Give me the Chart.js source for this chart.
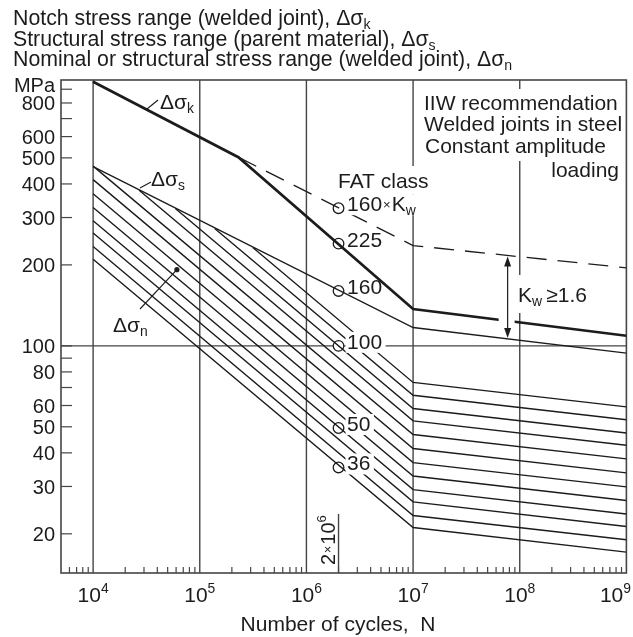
<!DOCTYPE html>
<html>
<head>
<meta charset="utf-8">
<script src="https://cdn.jsdelivr.net/npm/chart.js@4.4.0/dist/chart.umd.min.js"></script>
<style>
  html, body { margin: 0; padding: 0; background: #fff; }
  #chart { display: block; }
</style>
</head>
<body>
<canvas id="chart" width="633" height="637"></canvas>
<script>
// axis ranges (cycles / MPa)
const xMin = 5000, xMax = 1e9;
const yMin = 14.3, yMax = 974;

const cycleDecades = [1e4, 1e5, 1e6, 1e7, 1e8, 1e9];
const decadeExp = ['4', '5', '6', '7', '8', '9'];
const stressTicks = [20, 30, 40, 50, 60, 70, 80, 90, 100, 200, 300, 400, 500, 600, 700, 800, 900];
const stressLabels = [20, 30, 40, 50, 60, 80, 100, 200, 300, 400, 500, 600, 800];

// notch stress range Δσk
const notchN = [1e4, 2.3e5, 1e7, 1e9];
const notchS = [960, 503, 137, 109];

// 160 x Kw (dashed)
const kwN = [2.3e5, 1e7, 1e9];
const kwS = [503, 236, 195];

// structural stress range Δσs (parent material)
const structN = [1e4, 1e7, 1e9];
const structS = [464, 117, 94];

// nominal stress range Δσn, one line per FAT class
const fatClass  = [36, 40, 45, 50, 56, 63, 71, 80, 90, 100, 112, 125];
const fatStartN = [1e4, 1e4, 1e4, 1e4, 1e4, 1e4, 1e4, 1e4, 2.7e4, 5.9e4, 1.38e5, 3.14e5];
const fatStartS = [210, 234, 263, 292, 327, 368, 415, 466, 379, 324, 273, 232];
const fatKneeS  = [21.1, 23.4, 26.3, 29.2, 32.8, 36.8, 41.5, 46.8, 52.6, 58.5, 65.5, 73.1];
const fatEndS   = [17.1, 19.0, 21.3, 23.7, 26.6, 29.9, 33.7, 38.0, 42.7, 47.4, 53.1, 59.3];
const kneeN = 1e7, endN = 1e9;

// FAT markers at 2x10^6
const markN = 2e6;
const markS = [325, 240, 160, 100, 49.5, 35.3];
const markText = [[['160'], ['×', 'small'], ['K'], ['w', 'sub']], [['225']], [['160']], [['100']], [['50']], [['36']]];
const markBox = [true, false, false, true, true, true];

// Kw arrow
const arrowN = 7.7e7;
const arrowS = [107, 215];
const arrowGapS = 124;

// Δσn pointer dot
const dotN = 6.1e4, dotS = 192;

const FONT = '"Liberation Sans", Arial, Helvetica, sans-serif';
const INK = '#1c1c1c';
const GRID = '#454545';

function pts(ns, ss) {
    return ns.map((n, i) => ({ x: n, y: ss[i] }));
}

function partFont(size, kind) {
    const s = (kind === 'sub' || kind === 'sup') ? size * 0.66 : (kind === 'small' ? size * 0.62 : size);
    return s.toFixed(1) + 'px ' + FONT;
}

function richWidth(ctx, parts, size) {
    let w = 0;
    parts.forEach(p => {
        ctx.font = partFont(size, p[1]);
        w += ctx.measureText(p[0]).width + (p[1] === 'small' ? 2 : 0);
    });
    return w;
}

function drawRich(ctx, parts, x, y, size, align) {
    const w = richWidth(ctx, parts, size);
    let cx = align === 'center' ? x - w / 2 : (align === 'right' ? x - w : x);
    ctx.textAlign = 'left';
    ctx.textBaseline = 'alphabetic';
    parts.forEach(p => {
        const kind = p[1];
        ctx.font = partFont(size, kind);
        let dy = 0;
        if (kind === 'sub') dy = size * 0.2;
        if (kind === 'sup') dy = -size * 0.42;
        if (kind === 'small') dy = -size * 0.12;
        const pad = kind === 'small' ? 1 : 0;
        ctx.fillText(p[0], cx + pad, y + dy);
        cx += ctx.measureText(p[0]).width + pad * 2;
    });
    return w;
}

function whiteBox(ctx, x, y, w, h) {
    ctx.fillStyle = '#fff';
    ctx.fillRect(x, y, w, h);
    ctx.fillStyle = INK;
}

function seg(ctx, x1, y1, x2, y2) {
    ctx.beginPath();
    ctx.moveTo(x1, y1);
    ctx.lineTo(x2, y2);
    ctx.stroke();
}

const decorPlugin = {
    id: 'decor',
    beforeDatasetsDraw(chart) {
        const { ctx, chartArea: a, scales: { x, y } } = chart;
        ctx.save();
        ctx.strokeStyle = GRID;
        ctx.lineWidth = 1.4;
        // decade lines
        cycleDecades.slice(0, 5).forEach(n => {
            const px = x.getPixelForValue(n);
            seg(ctx, px, a.top, px, a.bottom);
        });
        // 100 MPa line
        const p100 = y.getPixelForValue(100);
        seg(ctx, a.left, p100, a.right, p100);
        // short 2x10^6 line
        const p2 = x.getPixelForValue(2e6);
        seg(ctx, p2, a.bottom - 59, p2, a.bottom);
        // minor x ticks
        ctx.lineWidth = 1.2;
        [1e3, 1e4, 1e5, 1e6, 1e7, 1e8].forEach(d => {
            for (let k = 2; k <= 9; k++) {
                const n = k * d;
                if (n <= xMin || n >= xMax) continue;
                const px = x.getPixelForValue(n);
                seg(ctx, px, a.bottom, px, a.bottom - 6);
            }
        });
        // y ticks (inside)
        stressTicks.forEach(s => {
            const py = y.getPixelForValue(s);
            seg(ctx, a.left, py, a.left + 11, py);
        });
        // frame
        ctx.lineWidth = 1.6;
        ctx.strokeRect(a.left, a.top, a.right - a.left, a.bottom - a.top);
        ctx.restore();
    },
    afterDatasetsDraw(chart) {
        const { ctx, chartArea: a, scales: { x, y } } = chart;
        ctx.save();
        ctx.fillStyle = INK;
        ctx.strokeStyle = INK;

        // titles
        drawRich(ctx, [['Notch stress range (welded joint), Δσ'], ['k', 'sub']], 13, 25, 21.3, 'left');
        drawRich(ctx, [['Structural stress range (parent material), Δσ'], ['s', 'sub']], 13, 46, 21.3, 'left');
        drawRich(ctx, [['Nominal or structural stress range (welded joint), Δσ'], ['n', 'sub']], 13, 66, 21.3, 'left');

        // y labels
        ctx.font = '20px ' + FONT;
        ctx.textAlign = 'right';
        ctx.textBaseline = 'alphabetic';
        stressLabels.forEach(s => {
            ctx.fillText(String(s), 55, y.getPixelForValue(s) + 7.2);
        });
        ctx.fillText('MPa', 55, 92);

        // x labels
        cycleDecades.forEach((n, i) => {
            const parts = [['10'], [decadeExp[i], 'sup']];
            let cx = x.getPixelForValue(n);
            const w = richWidth(ctx, parts, 21);
            if (cx + w / 2 > 631) cx = 631 - w / 2;
            drawRich(ctx, parts, cx, 602, 21, 'center');
        });
        drawRich(ctx, [['Number of cycles,  N']], 338, 631, 21, 'center');

        // 2x10^6 rotated
        ctx.save();
        ctx.translate(x.getPixelForValue(2e6) - 4, a.bottom - 8);
        ctx.rotate(-Math.PI / 2);
        drawRich(ctx, [['2'], ['×', 'small'], ['10'], ['6', 'sup']], 0, 0, 20, 'left');
        ctx.restore();

        // IIW note
        whiteBox(ctx, 420, 89, 205, 72);
        drawRich(ctx, [['IIW recommendation']], 424, 110, 21, 'left');
        drawRich(ctx, [['Welded joints in steel']], 424, 131, 21, 'left');
        drawRich(ctx, [['Constant amplitude']], 425, 152.5, 21, 'left');
        whiteBox(ctx, 550, 161, 72, 22);
        drawRich(ctx, [['loading']], 619, 176.5, 21, 'right');

        // FAT class header
        whiteBox(ctx, 336, 166, 96, 28);
        drawRich(ctx, [['FAT class']], 338, 188, 21, 'left');

        // marker labels
        const mx = x.getPixelForValue(markN);
        markS.forEach((s, i) => {
            const my = y.getPixelForValue(s);
            const w = richWidth(ctx, markText[i], 21);
            if (markBox[i]) whiteBox(ctx, mx + 7, my - 14, w + 5, 21);
            drawRich(ctx, markText[i], mx + 8.5, my + 3, 21, 'left');
        });

        // Δσk pointer
        ctx.lineWidth = 1.1;
        seg(ctx, 147, 109, 158, 100);
        drawRich(ctx, [['Δσ'], ['k', 'sub']], 160, 108.5, 21, 'left');
        // Δσs pointer
        seg(ctx, 140, 188, 151, 182);
        drawRich(ctx, [['Δσ'], ['s', 'sub']], 151, 185.5, 21, 'left');
        // Δσn pointer
        const dx = x.getPixelForValue(dotN), dy = y.getPixelForValue(dotS);
        seg(ctx, 140, 309, dx, dy);
        ctx.beginPath();
        ctx.arc(dx, dy, 2.6, 0, Math.PI * 2);
        ctx.fill();
        drawRich(ctx, [['Δσ'], ['n', 'sub']], 113, 332, 21, 'left');

        // Kw arrow
        const ax = x.getPixelForValue(arrowN);
        const ay1 = y.getPixelForValue(arrowS[1]);
        const ay2 = y.getPixelForValue(arrowS[0]);
        const gy = y.getPixelForValue(arrowGapS);
        whiteBox(ctx, ax - 9, gy - 5, 16, 10);
        whiteBox(ctx, ax + 4, 275, 78, 38);
        ctx.lineWidth = 1.2;
        seg(ctx, ax, ay1 + 6, ax, ay2 - 6);
        ctx.beginPath();
        ctx.moveTo(ax, ay1); ctx.lineTo(ax - 3.5, ay1 + 10); ctx.lineTo(ax + 3.5, ay1 + 10); ctx.closePath();
        ctx.fill();
        ctx.beginPath();
        ctx.moveTo(ax, ay2); ctx.lineTo(ax - 3.5, ay2 - 10); ctx.lineTo(ax + 3.5, ay2 - 10); ctx.closePath();
        ctx.fill();
        drawRich(ctx, [['K'], ['w', 'sub'], ['\u2009≥1.6']], 518, 302, 21, 'left');

        ctx.restore();
    }
};

const datasets = [];
const lineBase = { showLine: true, pointRadius: 0, borderColor: INK, fill: false, tension: 0, borderJoinStyle: 'miter' };

datasets.push(Object.assign({ label: 'Δσk', data: pts(notchN, notchS), borderWidth: 2.7 }, lineBase));
datasets.push(Object.assign({ label: '160×Kw', data: pts(kwN, kwS), borderWidth: 1.3, borderDash: [20, 11] }, lineBase));
datasets.push(Object.assign({ label: 'Δσs', data: pts(structN, structS), borderWidth: 1.4 }, lineBase));
fatClass.forEach((f, i) => {
    datasets.push(Object.assign({
        label: 'FAT ' + f,
        data: [{ x: fatStartN[i], y: fatStartS[i] }, { x: kneeN, y: fatKneeS[i] }, { x: endN, y: fatEndS[i] }],
        borderWidth: 1.4
    }, lineBase));
});
datasets.push({
    label: 'FAT marks',
    data: markS.map(s => ({ x: markN, y: s })),
    showLine: false,
    pointRadius: 5.3,
    pointBackgroundColor: '#fff',
    pointBorderColor: INK,
    pointBorderWidth: 1.3
});

new Chart(document.getElementById('chart'), {
    type: 'scatter',
    data: { datasets: datasets },
    options: {
        responsive: false,
        animation: false,
        devicePixelRatio: 1,
        layout: { padding: { left: 61, right: 3, top: 80, bottom: 64 } },
        plugins: { legend: { display: false }, tooltip: { enabled: false } },
        scales: {
            x: { type: 'logarithmic', min: xMin, max: xMax, display: false },
            y: { type: 'logarithmic', min: yMin, max: yMax, display: false }
        }
    },
    plugins: [decorPlugin]
});
</script>
</body>
</html>
